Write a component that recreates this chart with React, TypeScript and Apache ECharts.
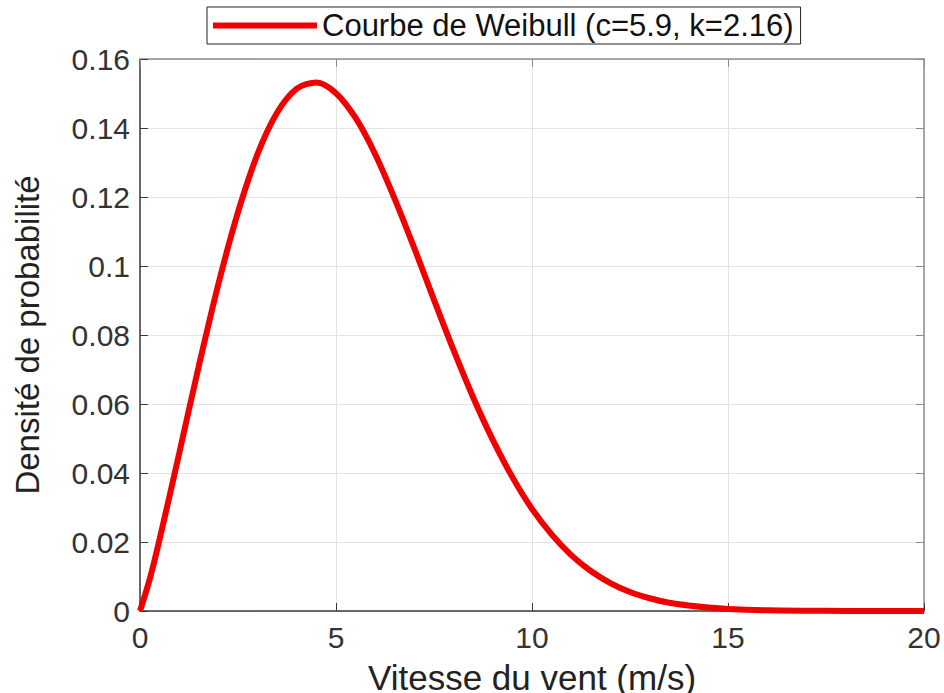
import React, { useEffect, useRef } from "react";
import * as echarts from "echarts";

const seriesName = "Courbe de Weibull (c=5.9, k=2.16)";
const xAxisName = "Vitesse du vent (m/s)";
const yAxisName = "Densité de probabilité";

const windSpeeds = [
  0, 0.25, 0.5, 1, 1.5, 2, 2.5, 3, 3.5, 4, 4.5, 5, 5.5, 6, 6.5, 7, 7.5, 8, 8.5, 9,
  9.5, 10, 10.5, 11, 11.5, 12, 12.5, 13, 13.5, 14, 14.5, 15, 16, 17, 18, 19, 20,
];
const densities = [
  0, 0.0093, 0.0208, 0.0457, 0.071, 0.0948, 0.1156, 0.1325, 0.1445, 0.1514, 0.1532,
  0.1501, 0.1429, 0.1324, 0.1194, 0.1051, 0.0902, 0.0756, 0.0619, 0.0496, 0.0388,
  0.0296, 0.0222, 0.0162, 0.0116, 0.0081, 0.0055, 0.0037, 0.0024, 0.0016, 0.001,
  0.0006, 0.0002, 0.00007, 0.00002, 0.000005, 0.000001,
];

const xTicks = { min: 0, max: 20, interval: 5 };
const yTicks = { min: 0, max: 0.16, interval: 0.02 };

const FONT = "'Liberation Sans', Arial, Helvetica, sans-serif";

export default function App() {
  const ref = useRef<HTMLDivElement>(null);
  useEffect(() => {
    document.body.style.margin = "0";
    if (!ref.current) return;
    const chart = echarts.init(ref.current, null, { renderer: "svg" });
    const data = windSpeeds.map((v, i) => [v, densities[i]]);
    const axisDark = "#3a3a3a";
    const axisLight = "#8c8c8c";
    const gridColor = "#e3e3e3";
    chart.setOption({
      animation: false,
      backgroundColor: "#ffffff",
      textStyle: { fontFamily: FONT },
      grid: {
        left: 140,
        right: 20,
        top: 59,
        bottom: 82,
        containLabel: false,
        outerBoundsMode: "none",
      },
      legend: {
        left: 207,
        top: 7,
        padding: [3, 7, 3, 6],
        borderColor: "#222",
        borderWidth: 1,
        backgroundColor: "#fff",
        itemWidth: 104,
        itemHeight: 6,
        icon: "rect",
        textStyle: { fontSize: 31, color: "#111", fontFamily: FONT },
        data: [seriesName],
      },
      xAxis: [
        {
          type: "value",
          min: xTicks.min,
          max: xTicks.max,
          interval: xTicks.interval,
          name: xAxisName,
          nameLocation: "middle",
          nameGap: 49,
          nameTextStyle: { fontSize: 35, color: "#222", fontFamily: FONT },
          axisLine: { show: true, onZero: false, lineStyle: { color: axisDark, width: 1.5 } },
          axisTick: { show: true, inside: true, length: 8, lineStyle: { color: axisDark } },
          axisLabel: { fontSize: 30, color: "#333", margin: 11, fontFamily: FONT },
          splitLine: { show: true, lineStyle: { color: gridColor, width: 1 } },
        },
        {
          type: "value",
          position: "top",
          min: xTicks.min,
          max: xTicks.max,
          interval: xTicks.interval,
          axisLine: { show: true, onZero: false, lineStyle: { color: axisLight, width: 1.5 } },
          axisTick: { show: true, inside: true, length: 8, lineStyle: { color: axisLight } },
          axisLabel: { show: false },
          splitLine: { show: false },
        },
      ],
      yAxis: [
        {
          type: "value",
          min: yTicks.min,
          max: yTicks.max,
          interval: yTicks.interval,
          name: yAxisName,
          nameLocation: "middle",
          nameGap: 96,
          nameRotate: 90,
          nameTextStyle: { fontSize: 33, color: "#222", fontFamily: FONT },
          axisLine: { show: true, onZero: false, lineStyle: { color: axisDark, width: 1.5 } },
          axisTick: { show: true, inside: true, length: 8, lineStyle: { color: axisDark } },
          axisLabel: { fontSize: 30, color: "#333", margin: 10, fontFamily: FONT },
          splitLine: { show: true, lineStyle: { color: gridColor, width: 1 } },
        },
        {
          type: "value",
          position: "right",
          min: yTicks.min,
          max: yTicks.max,
          interval: yTicks.interval,
          axisLine: { show: true, onZero: false, lineStyle: { color: axisLight, width: 1.5 } },
          axisTick: { show: true, inside: true, length: 8, lineStyle: { color: axisLight } },
          axisLabel: { show: false },
          splitLine: { show: false },
        },
      ],
      series: [
        {
          name: seriesName,
          type: "line",
          data,
          smooth: 0.3,
          showSymbol: false,
          symbol: "none",
          xAxisIndex: 0,
          yAxisIndex: 0,
          lineStyle: { color: "#f00000", width: 6 },
          itemStyle: { color: "#f00000" },
          clip: false,
          z: 5,
        },
      ],
    });
    return () => chart.dispose();
  }, []);
  return (
    <div
      ref={ref}
      style={{ position: "absolute", left: 0, top: 0, width: 944, height: 693 }}
    />
  );
}
